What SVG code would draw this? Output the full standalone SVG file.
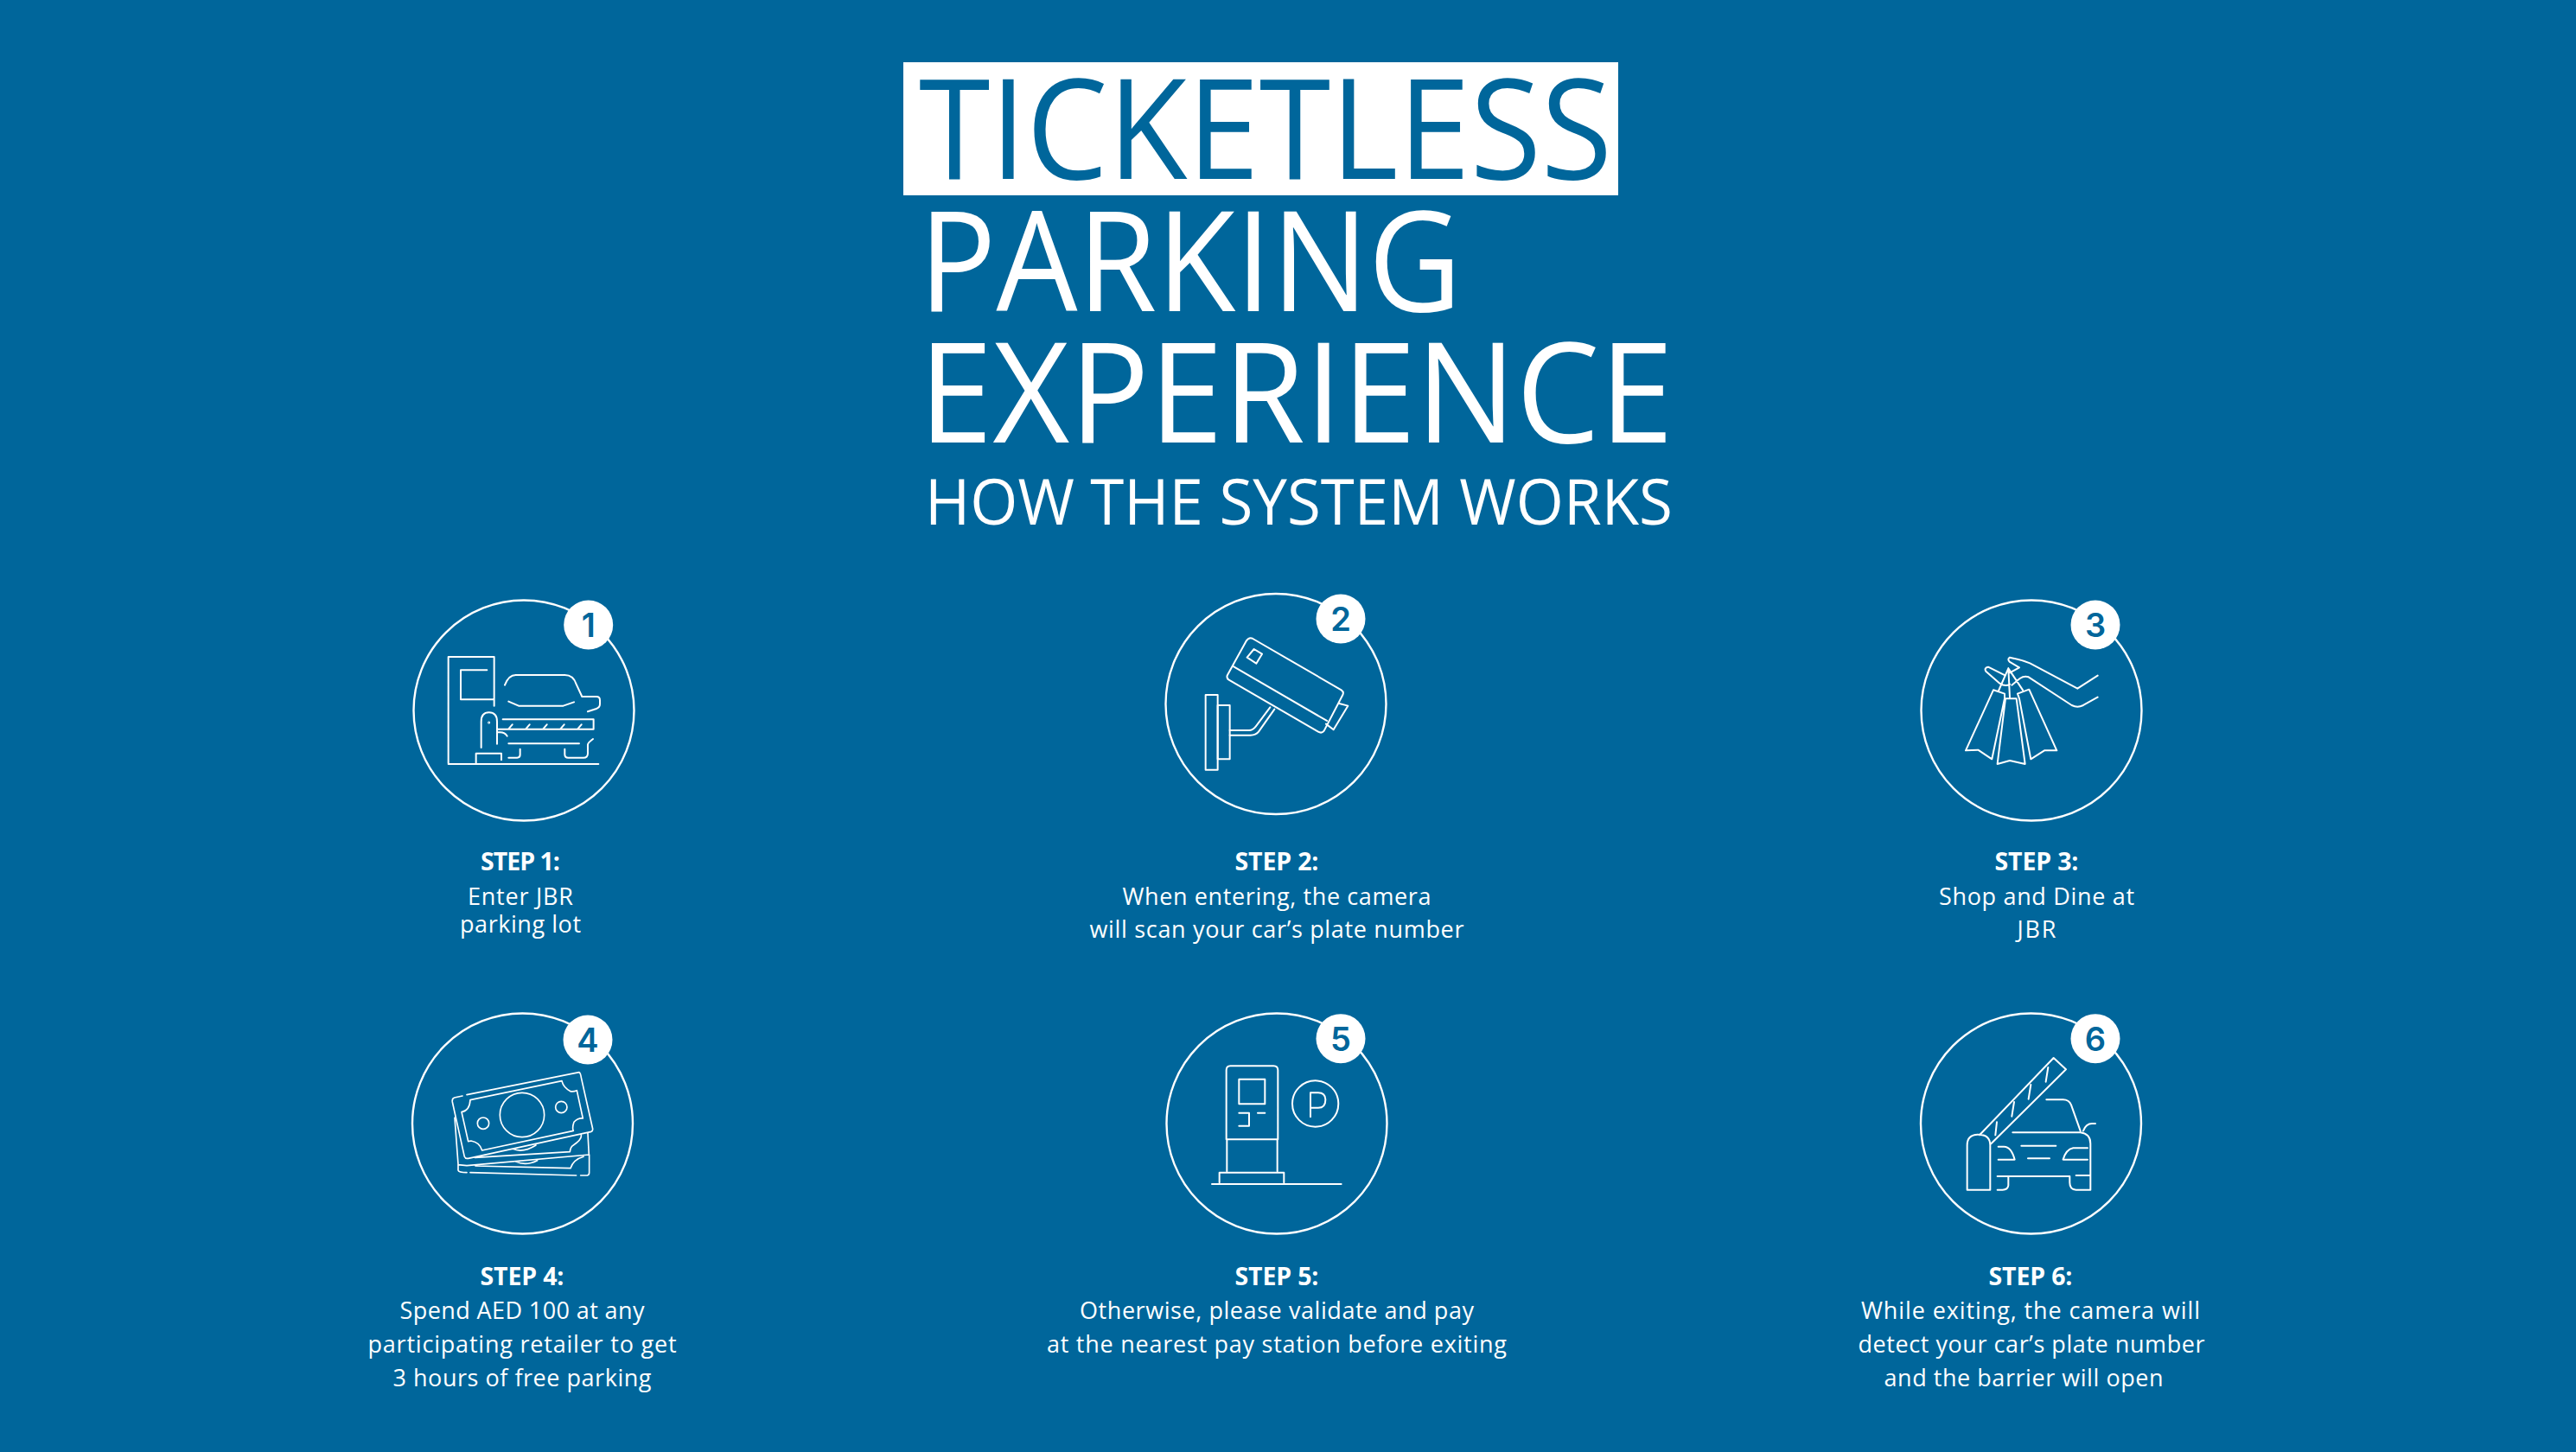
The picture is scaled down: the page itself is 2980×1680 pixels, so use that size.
<svg xmlns="http://www.w3.org/2000/svg" width="2980" height="1680" viewBox="0 0 2980 1680">
<style>
text{font-family:"Open Sans","Noto Sans","Liberation Sans",sans-serif;fill:#fff}
.t{font-weight:400;font-size:161px}
.h{font-weight:400;font-size:73px}
.s{font-weight:700;font-size:28.5px;text-anchor:middle}
.b{font-weight:400;font-size:27px;text-anchor:middle}
.n{font-family:Inter,"Noto Sans",sans-serif;font-weight:600;font-size:38px;fill:#00669b;text-anchor:middle}
.ring{fill:none;stroke:#fff;stroke-width:2.4}
.dot{fill:#fff}
.i{fill:none;stroke:#fff;stroke-width:6;stroke-linejoin:round;stroke-linecap:round}
</style>
<rect width="2980" height="1680" fill="#00669b"/>
<g id="title">
<rect x="1045" y="72" width="827" height="154" fill="#fff"/>
<text class="t" x="1063" y="207" textLength="802" lengthAdjust="spacingAndGlyphs" style="fill:#00669b">TICKETLESS</text>
<text class="t" x="1063" y="360" textLength="628" lengthAdjust="spacingAndGlyphs">PARKING</text>
<text class="t" x="1063" y="512" textLength="873" lengthAdjust="spacingAndGlyphs">EXPERIENCE</text>
<text class="h" x="1070" y="607" textLength="865" lengthAdjust="spacingAndGlyphs">HOW THE SYSTEM WORKS</text>
</g>
<g id="step1">
<circle class="ring" cx="606" cy="822" r="127.5"/><circle class="dot" cx="680.7" cy="723" r="28.5"/><text class="n" x="680.7" y="737">1</text>
<g class="i" transform="translate(460 670) scale(.3333)">
<path d="M176 640V270H335V440M310 316H219V418H332M176 642H697M272 640V605H360V628M290 585V495Q290 463 317 463Q345 463 345 495V572M365 487H680V521H348M385 520L398 505M445 520L458 505M505 520L518 505M565 520L578 505M625 520L638 505M350 532Q372 530 380 545M372 368Q385 333 410 333H580Q610 333 620 365L640 408H690Q702 408 702 420V435Q702 445 690 450L660 460M385 425L420 440H575L612 427M385 571H630M385 620H415Q425 620 425 610V590M580 590V608Q580 620 592 620H645Q660 620 660 605V575Q660 568 678 555"/>
<circle cx="317" cy="498" r="1.5"/>
</g>
<text class="s" x="602" y="1007" textLength="92">STEP 1:</text>
<text class="b" x="602" y="1047" textLength="122">Enter JBR</text>
<text class="b" x="602" y="1079" textLength="140">parking lot</text>
</g>
<g id="step2">
<circle class="ring" cx="1476" cy="814.5" r="127.5"/><circle class="dot" cx="1551" cy="716" r="28.5"/><text class="n" x="1551" y="730">2</text>
<g class="i" transform="translate(1330 670) scale(.3333)">
<rect x="194" y="402" width="42" height="260"/><rect x="236" y="438" width="42" height="187"/>
<path d="M278 525H345Q358 525 368 512L418 445M278 542H350Q368 542 378 530L433 452M358 207L665 385Q675 392 670 402L605 527Q597 537 585 530L275 350Q265 343 270 333L335 215Q345 200 358 207ZM288 302L615 492M362 243L390 260L370 293L338 272ZM658 432L688 440L638 523L612 503"/>
</g>
<text class="s" x="1477" y="1007" textLength="97">STEP 2:</text>
<text class="b" x="1477" y="1047" textLength="357">When entering, the camera</text>
<text class="b" x="1477" y="1085" textLength="433">will scan your car’s plate number</text>
</g>
<g id="step3">
<circle class="ring" cx="2350" cy="822" r="127.5"/><circle class="dot" cx="2424" cy="723" r="28.5"/><text class="n" x="2424" y="737">3</text>
<g class="i" transform="translate(2210 680) scale(.3333)">
<path d="M650 305L580 350L415 262Q385 250 345 242Q335 248 345 258L378 277L345 295M650 380L600 408Q580 418 560 408L410 310Q395 305 380 315L352 338M345 335Q330 345 310 332L262 290Q255 278 270 275L330 305M340 280L305 360M340 280L345 380M340 280L390 355M288 355L192 565L235 563L283 595L327 385V368ZM330 385H368L398 612L345 600L302 612ZM372 368L412 353L508 565L465 565L418 595L378 385Z"/>
</g>
<text class="s" x="2356" y="1007" textLength="97">STEP 3:</text>
<text class="b" x="2356" y="1047" textLength="226">Shop and Dine at</text>
<text class="b" x="2356" y="1085" textLength="45">JBR</text>
</g>
<g id="step4">
<circle class="ring" cx="604.5" cy="1300" r="127.5"/><circle class="dot" cx="680" cy="1203" r="28.5"/><text class="n" x="680" y="1217">4</text>
<g class="i" transform="translate(460 1150) scale(.3333)" style="stroke-width:5">
<path d="M225 354L197 360Q188 363 190 375L232 565Q235 573 245 571L672 478Q678 475 677 468L637 290M630 272L240 350M630 272Q635 275 637 290M252 368L570 302Q575 325 600 338Q610 340 622 335L643 432Q625 430 612 445Q605 465 610 475L293 543Q285 515 255 510L245 512L222 410Q250 405 252 368ZM637 490Q640 505 610 525Q600 530 598 548L268 568M645 565Q610 575 600 605L270 597M660 483L664 558M198 430L210 590V612Q212 620 240 620M252 620L620 630M635 630H658Q665 628 665 620V558L240 596L210 593M400 538Q435 553 480 525M410 582Q445 598 485 578"/>
<circle cx="432" cy="420" r="77"/><circle cx="297" cy="449" r="20"/><circle cx="568" cy="393" r="20"/>
</g>
<text class="s" x="604" y="1487" textLength="97">STEP 4:</text>
<text class="b" x="604" y="1526" textLength="283">Spend AED 100 at any</text>
<text class="b" x="604" y="1565" textLength="357">participating retailer to get</text>
<text class="b" x="604" y="1604" textLength="299">3 hours of free parking</text>
</g>
<g id="step5">
<circle class="ring" cx="1477" cy="1300" r="127.5"/><circle class="dot" cx="1551" cy="1201.7" r="28.5"/><text class="n" x="1551" y="1215.7">5</text>
<g class="i" transform="translate(1330 1150) scale(.3333)">
<path d="M266 505V265Q266 250 280 250H430Q445 250 445 265V505ZM268 507V615M443 507V615M310 413H345V458H310M375 413H400M242 655V620H466V655M216 660H665M558 427V343H585Q610 343 610 368Q610 395 585 395H558"/>
<rect x="310" y="296" width="90" height="86"/><circle cx="575" cy="381" r="80"/>
</g>
<text class="s" x="1477" y="1487" textLength="97">STEP 5:</text>
<text class="b" x="1477" y="1526" textLength="456">Otherwise, please validate and pay</text>
<text class="b" x="1477" y="1565" textLength="532">at the nearest pay station before exiting</text>
</g>
<g id="step6">
<circle class="ring" cx="2349.5" cy="1300" r="127.5"/><circle class="dot" cx="2424" cy="1201.7" r="28.5"/><text class="n" x="2424" y="1215.7">6</text>
<g class="i" transform="translate(2210 1150) scale(.3333)">
<path d="M240 490L497 222L540 262L280 520M300 445L295 490M360 375L352 425M418 315L410 365M478 255L470 305M197 680V525Q197 488 235 488Q277 488 277 525V680ZM472 367H530Q550 367 558 385L590 475M355 481H590Q625 485 625 520V680H575Q553 680 553 655V633H302M600 475Q610 450 630 450H642M305 530H325Q350 530 362 575H305M615 535H565Q540 540 530 575H615M385 527H505M408 571H483M625 630H575M340 635V665Q338 680 320 680H302"/>
</g>
<text class="s" x="2349" y="1487" textLength="97">STEP 6:</text>
<text class="b" x="2349" y="1526" textLength="392">While exiting, the camera will</text>
<text class="b" x="2350" y="1565" textLength="401">detect your car’s plate number</text>
<text class="b" x="2341" y="1604" textLength="323">and the barrier will open</text>
</g>
</svg>
